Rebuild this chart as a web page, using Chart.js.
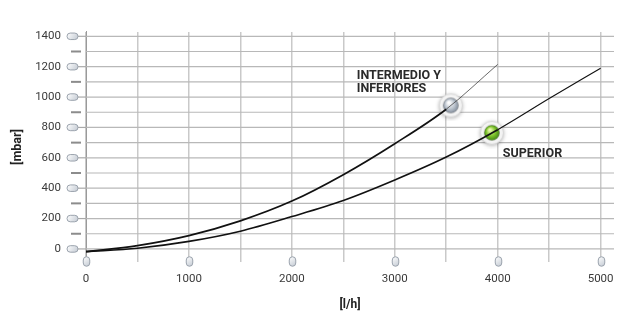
<!DOCTYPE html>
<html>
<head>
<meta charset="utf-8">
<script src="https://cdn.jsdelivr.net/npm/chart.js@4"></script>
<style>
  html, body { margin: 0; padding: 0; background: #fff; }
  #wrap { width: 627px; height: 315px; }
</style>
</head>
<body>
<div id="wrap"><canvas id="flowChart"></canvas></div>
<script>
// values
const flowTop = [0, 500, 1000, 1500, 2000, 2500, 3000, 3500, 4000];
const pressTop = [-18, 22, 88, 185, 315, 489, 693, 920, 1215];
const flowSup = [0, 500, 1000, 1500, 2000, 2500, 3000, 3500, 4000, 4500, 5000];
const pressSup = [-18, 5, 50, 117, 213, 319, 454, 605, 785, 990, 1190];
const markerFlow = [3544, 3943];
const markerPress = [945, 765];
const seriesNames = ["INTERMEDIO Y INFERIORES", "SUPERIOR"];
const xTicks = [0, 500, 1000, 1500, 2000, 2500, 3000, 3500, 4000, 4500, 5000];
const yTicks = [0, 100, 200, 300, 400, 500, 600, 700, 800, 900, 1000, 1100, 1200, 1300, 1400];
const xTitle = "[l/h]";
const yTitle = "[mbar]";

const FONT = "Roboto, 'DejaVu Sans', sans-serif";

function toPoints(xs, ys) {
    return xs.map((x, i) => ({ x: x, y: ys[i] }));
}

function makeMarker(inner, mid, outer) {
    const c = document.createElement("canvas");
    c.width = 32; c.height = 32;
    const g = c.getContext("2d");
    g.save();
    g.shadowColor = "rgba(0,0,0,0.35)";
    g.shadowBlur = 4;
    g.shadowOffsetY = 1;
    g.beginPath();
    g.arc(16, 16, 11.5, 0, Math.PI * 2);
    g.fillStyle = "#f4f4f4";
    g.fill();
    g.restore();
    g.beginPath();
    g.arc(16, 16, 11.5, 0, Math.PI * 2);
    g.strokeStyle = "#d6d6d6";
    g.lineWidth = 1;
    g.stroke();
    const rg = g.createRadialGradient(14, 13, 1, 16, 16, 8);
    rg.addColorStop(0, inner);
    rg.addColorStop(0.55, mid);
    rg.addColorStop(1, outer);
    g.beginPath();
    g.arc(16, 16, 7.6, 0, Math.PI * 2);
    g.fillStyle = rg;
    g.fill();
    g.strokeStyle = "rgba(0,0,0,0.25)";
    g.lineWidth = 0.8;
    g.stroke();
    return c;
}

const grayMarker = makeMarker("#ffffff", "#bcc4ce", "#7d8896");
const greenMarker = makeMarker("#e6f7a8", "#7cc22a", "#3d7f12");

function pill(g, cx, cy, w, h) {
    const r = Math.min(w, h) / 2;
    g.beginPath();
    g.roundRect(cx - w / 2, cy - h / 2, w, h, r);
    const lg = g.createLinearGradient(cx - w / 2, cy - h / 2, cx + w / 2, cy + h / 2);
    lg.addColorStop(0, "#ffffff");
    lg.addColorStop(1, "#c3cad3");
    g.fillStyle = lg;
    g.fill();
    g.strokeStyle = "#9ba3ad";
    g.lineWidth = 1;
    g.stroke();
}

// horizontal grid every 100 mbar, placed with the y scale
const yGridLines = {
    id: "yGridLines",
    beforeDatasetsDraw(chart) {
        const g = chart.ctx;
        const ys = chart.scales.y;
        const { left, right } = chart.chartArea;
        g.save();
        g.strokeStyle = "#b8b8b8";
        g.lineWidth = 1.2;
        yTicks.forEach(v => {
            const py = ys.getPixelForValue(v);
            g.beginPath();
            g.moveTo(left, py);
            g.lineTo(right, py);
            g.stroke();
        });
        g.restore();
    }
};

const axisDecor = {
    id: "axisDecor",
    afterDraw(chart) {
        const g = chart.ctx;
        const xs = chart.scales.x, ys = chart.scales.y;
        const left = chart.chartArea.left, bottom = chart.chartArea.bottom;
        g.save();
        yTicks.forEach(v => {
            const py = ys.getPixelForValue(v);
            if (v % 200 === 0) {
                g.strokeStyle = "#a9a9a9";
                g.lineWidth = 1.2;
                g.beginPath();
                g.moveTo(left - 9, py);
                g.lineTo(left, py);
                g.stroke();
                pill(g, left - 13.5, py, 11, 6.5);
            } else {
                g.strokeStyle = "#8c8c8c";
                g.lineWidth = 2;
                g.beginPath();
                g.moveTo(left - 15, py);
                g.lineTo(left - 5, py);
                g.stroke();
            }
        });
        xTicks.forEach(v => {
            if (v % 1000 !== 0) return;
            const px = Math.round(xs.getPixelForValue(v)) + 0.5;
            pill(g, px, bottom - 0.5, 6.5, 9.5);
        });
        g.restore();
    }
};

const seriesLabels = {
    id: "seriesLabels",
    afterDatasetsDraw(chart) {
        const g = chart.ctx;
        const pts = chart.getDatasetMeta(2).data;
        g.save();
        g.fillStyle = "#2a2a2a";
        g.font = "bold 12.5px " + FONT;
        g.textAlign = "left";
        g.textBaseline = "alphabetic";
        const a = pts[0], b = pts[1];
        const words = seriesNames[0].split(" ");
        g.fillText(words.slice(0, 2).join(" "), a.x - 94, a.y - 26);
        g.fillText(words.slice(2).join(" "), a.x - 94, a.y - 13.5);
        g.fillText(seriesNames[1], b.x + 11, b.y + 24);
        g.restore();
    }
};

const ctx = document.getElementById("flowChart").getContext("2d");
new Chart(ctx, {
    type: "line",
    data: {
        datasets: [
            {
                label: seriesNames[0],
                data: toPoints(flowTop, pressTop),
                borderColor: "#111",
                borderWidth: 1.7,
                pointRadius: 0,
                cubicInterpolationMode: "monotone",
                fill: false,
                segment: {
                    borderWidth: c => c.p0.parsed.x >= 3500 ? 0.8 : 1.7,
                    borderColor: c => c.p0.parsed.x >= 3500 ? "#444" : "#111"
                }
            },
            {
                label: seriesNames[1],
                data: toPoints(flowSup, pressSup),
                borderColor: "#111",
                borderWidth: 1.6,
                pointRadius: 0,
                cubicInterpolationMode: "monotone",
                fill: false,
                segment: {
                    borderWidth: c => c.p0.parsed.x >= 4000 ? 1.1 : 1.6
                }
            },
            {
                label: "markers",
                data: toPoints(markerFlow, markerPress),
                showLine: false,
                pointStyle: [grayMarker, greenMarker],
                pointRadius: 12,
                pointHoverRadius: 12
            }
        ]
    },
    options: {
        responsive: true,
        maintainAspectRatio: false,
        animation: false,
        layout: { padding: { top: 15, right: 13, left: 0, bottom: 0 } },
        plugins: {
            legend: { display: false },
            tooltip: { enabled: false }
        },
        scales: {
            x: {
                type: "linear",
                min: 0,
                max: 5130,
                afterBuildTicks: s => { s.ticks = xTicks.map(v => ({ value: v })); },
                afterFit: s => { s.height = 53; },
                grid: {
                    color: c => (c.tick && xTicks.includes(c.tick.value)) ? "#c9c9c9" : "rgba(0,0,0,0)",
                    lineWidth: 1.5,
                    drawTicks: false
                },
                border: { display: false },
                ticks: {
                    autoSkip: false,
                    maxTicksLimit: 30,
                    maxRotation: 0,
                    padding: 10,
                    color: "#3a3a3a",
                    font: { family: FONT, size: 11.5 },
                    callback: v => v % 1000 === 0 ? String(v) : ""
                },
                title: {
                    display: true,
                    text: xTitle,
                    color: "#222",
                    font: { family: FONT, size: 12, weight: "bold" },
                    padding: { top: 0, bottom: 3 }
                }
            },
            y: {
                type: "linear",
                min: -86,
                max: 1429,
                afterBuildTicks: s => { s.ticks = yTicks.filter(v => v % 200 === 0).map(v => ({ value: v })); },
                afterFit: s => { s.width = 86; },
                grid: { display: false, drawTicks: false },
                border: { display: true, color: "#9a9a9a", width: 1 },
                ticks: {
                    autoSkip: false,
                    maxTicksLimit: 30,
                    padding: 25,
                    color: "#3a3a3a",
                    font: { family: FONT, size: 11.5 },
                    callback: v => String(v)
                },
                title: {
                    display: true,
                    text: yTitle,
                    color: "#222",
                    font: { family: FONT, size: 12.5, weight: "bold" },
                    padding: { top: 10, bottom: 0 }
                }
            }
        }
    },
    plugins: [yGridLines, axisDecor, seriesLabels]
});
</script>
</body>
</html>
